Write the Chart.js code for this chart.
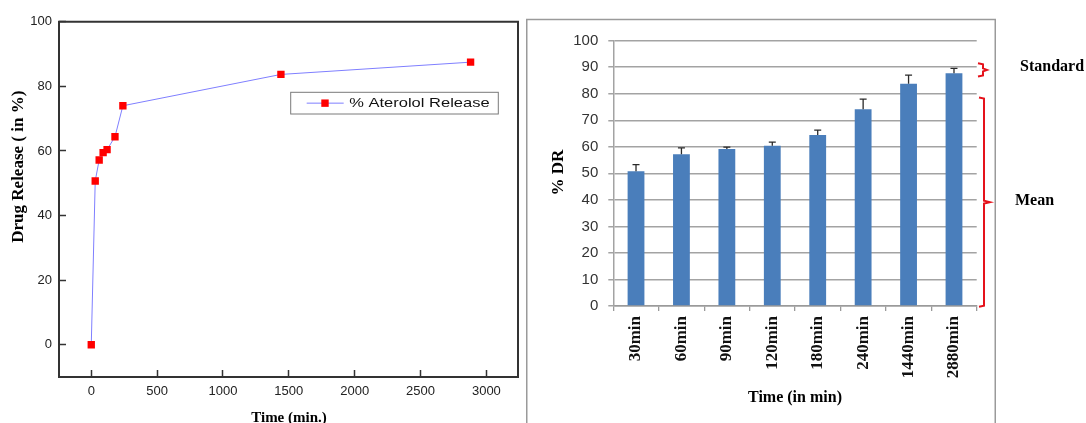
<!DOCTYPE html>
<html>
<head>
<meta charset="utf-8">
<script src="https://cdn.jsdelivr.net/npm/chart.js@4.4.1/dist/chart.umd.min.js"></script>
<style>
  html, body { margin: 0; padding: 0; background: #fff; }
  #wrap { position: relative; width: 1086px; height: 423px; overflow: hidden; background: #fff; }
  #wrap canvas { position: absolute; top: 0; }
  #releaseCurve { left: 0; }
  #releaseBars { left: 526px; }
</style>
</head>
<body>
<div id="wrap">
  <canvas id="releaseCurve" width="526" height="423"></canvas>
  <canvas id="releaseBars" width="560" height="423"></canvas>
</div>
<script>
// Release profile: sampling time (min) and cumulative drug release (%)
const timePoints   = [0, 30, 60, 90, 120, 180, 240, 1440, 2880];
const releaseCurve = [0, 50.7, 57.2, 59.5, 60.4, 64.4, 74.0, 83.7, 87.5];
const curveXTicks  = [0, 500, 1000, 1500, 2000, 2500, 3000];
const curveYTicks  = [0, 20, 40, 60, 80, 100];

// Mean % DR with standard deviation per sampling time
const barCategories = ['30min', '60min', '90min', '120min', '180min', '240min', '1440min', '2880min'];
const meanRelease   = [50.8, 57.2, 59.2, 60.4, 64.5, 74.2, 83.8, 87.7];
const sdRelease     = [2.5, 2.4, 0.7, 1.4, 1.8, 3.8, 3.2, 1.9];
const barYTicks     = [0, 10, 20, 30, 40, 50, 60, 70, 80, 90, 100];

const SANS  = '"Liberation Sans", Arial, sans-serif';
const SERIF = '"Liberation Serif", "Times New Roman", serif';

function setTicks(values) {
  return scale => { scale.ticks = values.map(v => ({ value: v })); };
}

function drawText(ctx, text, x, y, opts) {
  ctx.save();
  ctx.translate(x, y);
  if (opts.rotate) ctx.rotate(opts.rotate);
  if (opts.stretch) ctx.scale(opts.stretch, 1);
  ctx.font = opts.font;
  ctx.fillStyle = opts.color || '#000';
  ctx.textAlign = opts.align || 'center';
  ctx.textBaseline = 'middle';
  ctx.fillText(text, 0, 0);
  ctx.restore();
}

/* ---------- left: release curve ---------- */
const curveDecor = {
  id: 'curveDecor',
  afterDraw(chart) {
    const { ctx, chartArea: a } = chart;
    // closing frame on top and right
    ctx.save();
    ctx.strokeStyle = '#333';
    ctx.lineWidth = 2;
    ctx.beginPath();
    ctx.moveTo(a.left, a.top);
    ctx.lineTo(a.right, a.top);
    ctx.lineTo(a.right, a.bottom);
    ctx.stroke();

    // legend box
    const ds = chart.data.datasets[0];
    const bx = 290.7, by = 92.3, bw = 207.6, bh = 21.7;
    ctx.fillStyle = '#fff';
    ctx.fillRect(bx, by, bw, bh);
    ctx.strokeStyle = '#7a7a7a';
    ctx.lineWidth = 1;
    ctx.strokeRect(bx, by, bw, bh);
    const cy = by + bh / 2;
    ctx.strokeStyle = ds.borderColor;
    ctx.lineWidth = ds.borderWidth;
    ctx.beginPath();
    ctx.moveTo(bx + 16, cy);
    ctx.lineTo(bx + 53, cy);
    ctx.stroke();
    ctx.fillStyle = ds.pointBackgroundColor;
    ctx.fillRect(bx + 34.3 - 3.7, cy - 3.7, 7.4, 7.4);
    ctx.restore();
    drawText(ctx, ds.label, bx + 58.5, cy + 0.5, { font: '13px ' + SANS, color: '#111', align: 'left', stretch: 1.27 });

    // axis titles
    drawText(ctx, 'Drug Release ( in %)', 18.6, 166.7, { font: 'bold 17px ' + SERIF, rotate: -Math.PI / 2 });
    drawText(ctx, 'Time (min.)', 289, 418, { font: 'bold 15px ' + SERIF });
  }
};

new Chart(document.getElementById('releaseCurve'), {
  type: 'scatter',
  data: {
    datasets: [{
      label: '% Aterolol Release',
      data: timePoints.map((t, i) => ({ x: t, y: releaseCurve[i] })),
      showLine: true,
      tension: 0,
      borderColor: '#7f7fff',
      borderWidth: 1,
      pointStyle: 'rect',
      pointRadius: 5.2,
      pointBorderWidth: 0,
      pointBackgroundColor: '#ff0000',
      pointBorderColor: '#ff0000',
      backgroundColor: '#ff0000'
    }]
  },
  options: {
    responsive: false,
    animation: false,
    events: [],
    layout: { padding: { top: 17, right: 8, left: 0, bottom: 0 } },
    plugins: { legend: { display: false }, tooltip: { enabled: false } },
    scales: {
      x: {
        type: 'linear',
        min: -245,
        max: 3240,
        afterBuildTicks: setTicks(curveXTicks),
        afterFit: s => { s.height = 46; },
        grid: { drawOnChartArea: false, tickLength: -7, tickWidth: 1.5, tickColor: '#333' },
        border: { color: '#333', width: 2 },
        ticks: { padding: 14, color: '#222', font: { family: SANS, size: 13 }, callback: v => String(v) }
      },
      y: {
        type: 'linear',
        min: -10,
        max: 100,
        afterBuildTicks: setTicks(curveYTicks),
        afterFit: s => { s.width = 59; },
        grid: { drawOnChartArea: false, tickLength: -7, tickWidth: 1.5, tickColor: '#333' },
        border: { color: '#333', width: 2 },
        ticks: { padding: 14, color: '#222', font: { family: SANS, size: 13 }, callback: v => String(v) }
      }
    }
  },
  plugins: [curveDecor]
});

/* ---------- right: mean % DR with SD ---------- */
const barDecor = {
  id: 'barDecor',
  afterDatasetsDraw(chart) {
    const { ctx } = chart;
    const y = chart.scales.y;
    const meta = chart.getDatasetMeta(0);
    ctx.save();
    ctx.strokeStyle = '#2a2a2a';
    ctx.lineWidth = 1.3;
    meta.data.forEach((bar, i) => {
      const top = y.getPixelForValue(meanRelease[i] + sdRelease[i]);
      const base = y.getPixelForValue(meanRelease[i]);
      ctx.beginPath();
      ctx.moveTo(bar.x, base);
      ctx.lineTo(bar.x, top);
      ctx.moveTo(bar.x - 3.5, top);
      ctx.lineTo(bar.x + 3.5, top);
      ctx.stroke();
    });
    ctx.restore();
  },
  afterDraw(chart) {
    const { ctx } = chart;
    const y = chart.scales.y;
    ctx.save();
    // panel border
    ctx.strokeStyle = '#9a9a9a';
    ctx.lineWidth = 1.5;
    ctx.strokeRect(0.75, 19.5, 468.5, 450);

    // red braces marking SD and mean
    ctx.strokeStyle = '#e5121b';
    ctx.lineWidth = 2;
    const brace = (x0, x1, tip, vTop, vBot) => {
      const t = y.getPixelForValue(vTop), b = y.getPixelForValue(vBot), m = (t + b) / 2;
      ctx.beginPath();
      ctx.moveTo(x0, t);
      ctx.lineTo(x1, t + 1);
      ctx.lineTo(x1, m - 1.5);
      ctx.lineTo(tip, m);
      ctx.lineTo(x1, m + 1.5);
      ctx.lineTo(x1, b - 1);
      ctx.lineTo(x0, b);
      ctx.stroke();
    };
    brace(452, 457, 461, 91.5, 86.5);
    brace(453, 458, 464, 78.6, -0.3);
    ctx.restore();

    drawText(ctx, 'Standard', 494, 67, { font: 'bold 16px ' + SERIF, align: 'left' });
    drawText(ctx, 'Mean', 489, 201, { font: 'bold 16px ' + SERIF, align: 'left' });

    // axis titles
    drawText(ctx, '% DR', 33, 172.5, { font: 'bold 17px ' + SERIF, rotate: -Math.PI / 2 });
    drawText(ctx, 'Time (in min)', 269, 398, { font: 'bold 16px ' + SERIF });
  }
};

new Chart(document.getElementById('releaseBars'), {
  type: 'bar',
  data: {
    labels: barCategories,
    datasets: [{
      label: '% DR',
      data: meanRelease,
      backgroundColor: '#4a7ebb',
      borderWidth: 0,
      barPercentage: 0.37,
      categoryPercentage: 1
    }]
  },
  options: {
    responsive: false,
    animation: false,
    events: [],
    layout: { padding: { top: 40.7, right: 109.3, left: 0, bottom: 0 } },
    plugins: { legend: { display: false }, tooltip: { enabled: false } },
    scales: {
      x: {
        afterFit: s => { s.height = 117; },
        grid: { drawOnChartArea: false, offset: true, tickLength: 5, color: '#9a9a9a', lineWidth: 1.3 },
        border: { color: '#9a9a9a', width: 1.5 },
        ticks: {
          autoSkip: false, minRotation: 90, maxRotation: 90, padding: 5,
          color: '#111', font: { family: SERIF, size: 17, weight: 'bold' }
        }
      },
      y: {
        min: 0,
        max: 100,
        afterBuildTicks: setTicks(barYTicks),
        afterFit: s => { s.width = 87.3; },
        grid: { color: '#a3a3a3', lineWidth: 1.5, tickLength: 5 },
        border: { color: '#a3a3a3', width: 1.5 },
        ticks: { padding: 10, color: '#333', font: { family: SANS, size: 15 } }
      }
    }
  },
  plugins: [barDecor]
});
</script>
</body>
</html>
